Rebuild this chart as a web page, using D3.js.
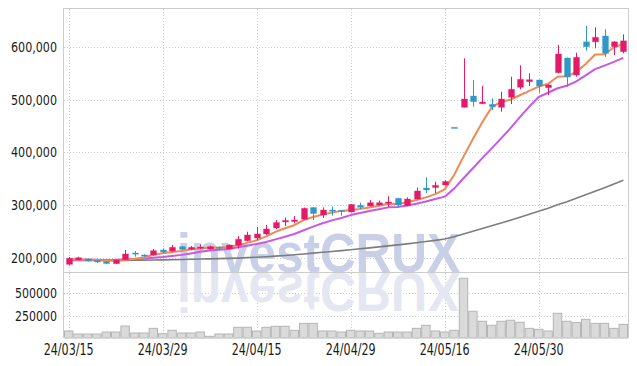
<!DOCTYPE html>
<html>
<head>
<meta charset="utf-8">
<script src="https://cdn.jsdelivr.net/npm/d3@7"></script>
<style>
  body { margin: 0; background: #fff; }
  text { font-family: "DejaVu Sans Condensed", "DejaVu Sans", sans-serif; }
</style>
</head>
<body>
<script>
// daily candles, 24/03/15 .. 24/06/13
var dates = ["24/03/15","24/03/18","24/03/19","24/03/20","24/03/21","24/03/22","24/03/25","24/03/26","24/03/27","24/03/28",
  "24/03/29","24/04/01","24/04/02","24/04/03","24/04/04","24/04/05","24/04/08","24/04/09","24/04/11","24/04/12",
  "24/04/15","24/04/16","24/04/17","24/04/18","24/04/19","24/04/22","24/04/23","24/04/24","24/04/25","24/04/26",
  "24/04/29","24/04/30","24/05/02","24/05/03","24/05/07","24/05/08","24/05/09","24/05/10","24/05/13","24/05/14",
  "24/05/16","24/05/17","24/05/20","24/05/21","24/05/22","24/05/23","24/05/24","24/05/27","24/05/28","24/05/29",
  "24/05/30","24/05/31","24/06/03","24/06/04","24/06/05","24/06/07","24/06/10","24/06/11","24/06/12","24/06/13"];

var opens = [187000,195800,197100,194300,192400,188200,195800,208500,204800,204800,
  214300,212400,220600,215600,218700,216200,219400,216200,223200,232000,
  237100,244800,256200,267600,268600,272800,295200,281000,290500,289900,
  286700,299400,298100,300000,303800,312800,298700,311400,332400,333300,
  338100,448000,486100,507600,492900,491800,486100,505100,524200,534900,
  538100,523400,552000,580000,547600,610800,610800,621900,601500,592000];

var highs = [201000,201500,198000,195000,193000,196000,214300,212400,206000,216200,
  217500,223800,222000,222000,225100,222500,221000,225000,240900,249100,
  258000,261900,271400,276200,279000,295000,296000,295200,297100,290500,
  302000,304400,309500,308600,316600,313500,314700,333300,352800,344400,
  347600,448000,579400,538100,526700,503200,515800,544400,566100,550900,
  539000,529500,604800,581000,590100,640900,638400,634700,612000,625100];

var lows = [184800,195000,192500,189500,187000,187500,195000,201500,202000,204000,
  208000,211500,214500,214000,216200,215500,216500,215500,216800,231000,
  233300,243000,254300,260000,265100,272000,271400,275200,280000,279600,
  285800,291800,297000,299000,296800,296800,297500,310500,322900,322900,
  337000,448000,485700,487200,492000,481000,477700,492400,520400,526700,
  513900,509500,551000,525300,544400,593900,598500,582300,585700,588900];

var closes = [198500,199600,193300,191400,188600,195200,206700,207000,202900,213000,
  210500,219400,215600,219400,220000,220600,217500,223800,234700,242900,
  244800,254300,266700,270500,271400,293700,283800,290500,288000,288000,
  301000,295600,304400,304400,305700,300000,311400,326700,328600,337500,
  344800,448000,501900,496800,496200,487200,501900,520400,539400,538700,
  526700,528600,587600,543800,581300,601500,619400,588900,610800,612700];

var volumes = [78000,45000,45000,45000,67000,67000,134000,56000,56000,108000,
  48000,86000,56000,56000,67000,19000,45000,45000,120000,120000,
  78000,120000,131000,131000,86000,164000,164000,78000,78000,67000,
  86000,78000,78000,52000,67000,67000,67000,108000,142000,78000,
  67000,86000,668000,299000,187000,142000,187000,198000,176000,108000,
  97000,78000,276000,187000,172000,209000,164000,164000,108000,153000];

// moving averages
var ma5 = [196000,196500,196000,195300,194300,193600,195000,197800,200100,205000,
  208000,210600,212300,215600,217000,219000,218600,220300,223300,227900,
  232700,240100,248700,255800,261500,271300,277200,282000,285500,288800,
  290300,292600,295400,298700,302200,302000,305200,309600,314500,320800,
  329800,357100,392200,425800,457500,486000,496800,500500,509000,517500,
  525400,530800,544200,545100,553600,568600,586700,587000,600400,606700];

var ma10 = [195500,195600,195600,195500,195400,195500,196200,197000,197800,199600,
  200800,202800,205000,207800,211000,213500,214600,216300,219500,222400,
  225900,229400,234500,239600,244700,252000,258700,265300,270700,275200,
  280800,284900,288700,292100,295500,296100,298900,302500,306600,311500,
  315900,331200,350900,370100,389200,407900,427000,446300,467400,487500,
  505700,513800,522400,527100,535600,547000,558700,565600,572700,580100];

var ma60 = [194300,194400,194400,194400,194300,194300,194500,194700,194800,195100,
  195400,195800,196200,196600,197000,197400,197800,198300,198900,199700,
  200500,201500,202700,203900,205200,206800,208300,209900,211500,213100,
  214900,216600,218400,220300,222200,224000,226000,228200,230400,232700,
  235200,239600,244800,250000,255200,260300,265600,271100,276800,282500,
  288200,293900,300600,306400,312800,319500,326400,332900,339900,347000];

var price_ticks = [200000, 300000, 400000, 500000, 600000];
var volume_ticks = [250000, 500000];
var date_ticks = ["24/03/15","24/03/29","24/04/15","24/04/29","24/05/16","24/05/30"];

var up_color = "#e5196a";
var down_color = "#2f97c9";

var plot_left = 64, plot_right = 628, plot_top = 9, plot_mid = 272, plot_bottom = 338;

var svg = d3.select("body").append("svg")
    .attr("width", 637)
    .attr("height", 366);

var x = d3.scaleBand().domain(dates).range([plot_left, plot_right]);
var y = d3.scaleLinear().domain([172381, 673333]).range([plot_mid, plot_top]);
var yv = d3.scaleLinear().domain([0, 738000]).range([plot_bottom, plot_mid]);
function cx(i) { return x(dates[i]) + x.bandwidth() / 2; }

// grid
var grid = svg.append("g").attr("stroke", "#c6cbdc").attr("stroke-dasharray", "1,2");
grid.selectAll(".hy").data(price_ticks).enter().append("line")
  .attr("x1", plot_left).attr("x2", plot_right)
  .attr("y1", function(d) { return Math.round(y(d)) + 0.5; })
  .attr("y2", function(d) { return Math.round(y(d)) + 0.5; });
grid.selectAll(".hv").data(volume_ticks).enter().append("line")
  .attr("x1", plot_left).attr("x2", plot_right)
  .attr("y1", function(d) { return Math.round(yv(d)) + 0.5; })
  .attr("y2", function(d) { return Math.round(yv(d)) + 0.5; });
grid.selectAll(".vx").data(date_ticks).enter().append("line")
  .attr("x1", function(d) { return Math.round(x(d) + x.bandwidth() / 2) + 0.5; })
  .attr("x2", function(d) { return Math.round(x(d) + x.bandwidth() / 2) + 0.5; })
  .attr("y1", plot_top).attr("y2", plot_bottom);

// watermark + reflection
var wm = svg.append("g");
wm.append("text").attr("x", 177).attr("y", plot_mid - 0.5)
  .attr("textLength", 283).attr("lengthAdjust", "spacingAndGlyphs")
  .attr("fill", "#c8cfe6")
  .style("font-family", "'Liberation Sans', Arial, sans-serif")
  .style("font-weight", "bold").style("font-size", "55px")
  .text("investCRUX");
wm.append("text").attr("x", 177).attr("y", -plot_mid - 0.5)
  .attr("transform", "scale(1,-1)")
  .attr("textLength", 283).attr("lengthAdjust", "spacingAndGlyphs")
  .attr("fill", "#e4e7f1")
  .style("font-family", "'Liberation Sans', Arial, sans-serif")
  .style("font-weight", "bold").style("font-size", "55px")
  .text("investCRUX");

// volume bars
svg.append("g").selectAll("rect").data(volumes).enter().append("rect")
  .attr("x", function(d, i) { return x(dates[i]) + 0.5; })
  .attr("width", x.bandwidth() - 1)
  .attr("y", function(d) { return yv(d); })
  .attr("height", function(d) { return plot_bottom - yv(d); })
  .attr("fill", "#dadada")
  .attr("stroke", "#b5b5b5")
  .attr("stroke-width", 1);

// moving averages
function ma_line(vals, color, w) {
  var line = d3.line()
    .x(function(d, i) { return cx(i); })
    .y(function(d) { return y(d); });
  svg.append("path").datum(vals)
    .attr("d", line)
    .attr("fill", "none")
    .attr("stroke", color)
    .attr("stroke-width", w)
    .attr("stroke-linejoin", "round");
}
ma_line(ma60, "#7d7d7d", 1.6);
ma_line(ma10, "#c659e6", 2);
ma_line(ma5, "#ef8a52", 2);

// candles
var candles = svg.append("g").selectAll("g").data(dates).enter().append("g");
candles.append("line")
  .attr("x1", function(d, i) { return Math.round(cx(i)) + 0.5; })
  .attr("x2", function(d, i) { return Math.round(cx(i)) + 0.5; })
  .attr("y1", function(d, i) { return y(highs[i]); })
  .attr("y2", function(d, i) { return y(lows[i]); })
  .attr("stroke", function(d, i) { return closes[i] > opens[i] ? up_color : down_color; })
  .attr("stroke-width", 1);
candles.append("rect")
  .attr("x", function(d, i) { return Math.round(cx(i)) - 2.5; })
  .attr("width", 6)
  .attr("y", function(d, i) { return y(Math.max(opens[i], closes[i])); })
  .attr("height", function(d, i) { return Math.max(1.2, Math.abs(y(opens[i]) - y(closes[i]))); })
  .attr("fill", function(d, i) { return closes[i] > opens[i] ? up_color : down_color; })
  .attr("stroke", function(d, i) { return closes[i] > opens[i] ? "rgba(229,25,106,0.3)" : "rgba(47,151,201,0.3)"; })
  .attr("stroke-width", 1);

// frame
var frame = svg.append("g").attr("stroke", "#cccccc").attr("fill", "none");
frame.append("rect").attr("x", plot_left - 0.5).attr("y", plot_top - 0.5)
  .attr("width", plot_right - plot_left + 1).attr("height", plot_bottom - plot_top);
frame.append("line").attr("x1", plot_left).attr("x2", plot_right)
  .attr("y1", plot_mid + 0.5).attr("y2", plot_mid + 0.5);

// labels
var fmt = d3.format(",");
svg.append("g").selectAll("text").data(price_ticks).enter().append("text")
  .attr("x", 57).attr("y", function(d) { return y(d) + 5; })
  .attr("text-anchor", "end").attr("font-size", 14).attr("fill", "#1a1a1a")
  .attr("textLength", 46).attr("lengthAdjust", "spacingAndGlyphs")
  .text(function(d) { return fmt(d); });
svg.append("g").selectAll("text").data(volume_ticks).enter().append("text")
  .attr("x", 57).attr("y", function(d) { return yv(d) + 5; })
  .attr("text-anchor", "end").attr("font-size", 14).attr("fill", "#1a1a1a")
  .attr("textLength", 42).attr("lengthAdjust", "spacingAndGlyphs")
  .text(function(d) { return d; });
svg.append("g").selectAll("text").data(date_ticks).enter().append("text")
  .attr("x", function(d) { return x(d) + x.bandwidth() / 2; })
  .attr("y", 355)
  .attr("text-anchor", "middle").attr("font-size", 15).attr("fill", "#1a1a1a")
  .attr("textLength", 50).attr("lengthAdjust", "spacingAndGlyphs")
  .text(function(d) { return d; });
</script>
</body>
</html>
